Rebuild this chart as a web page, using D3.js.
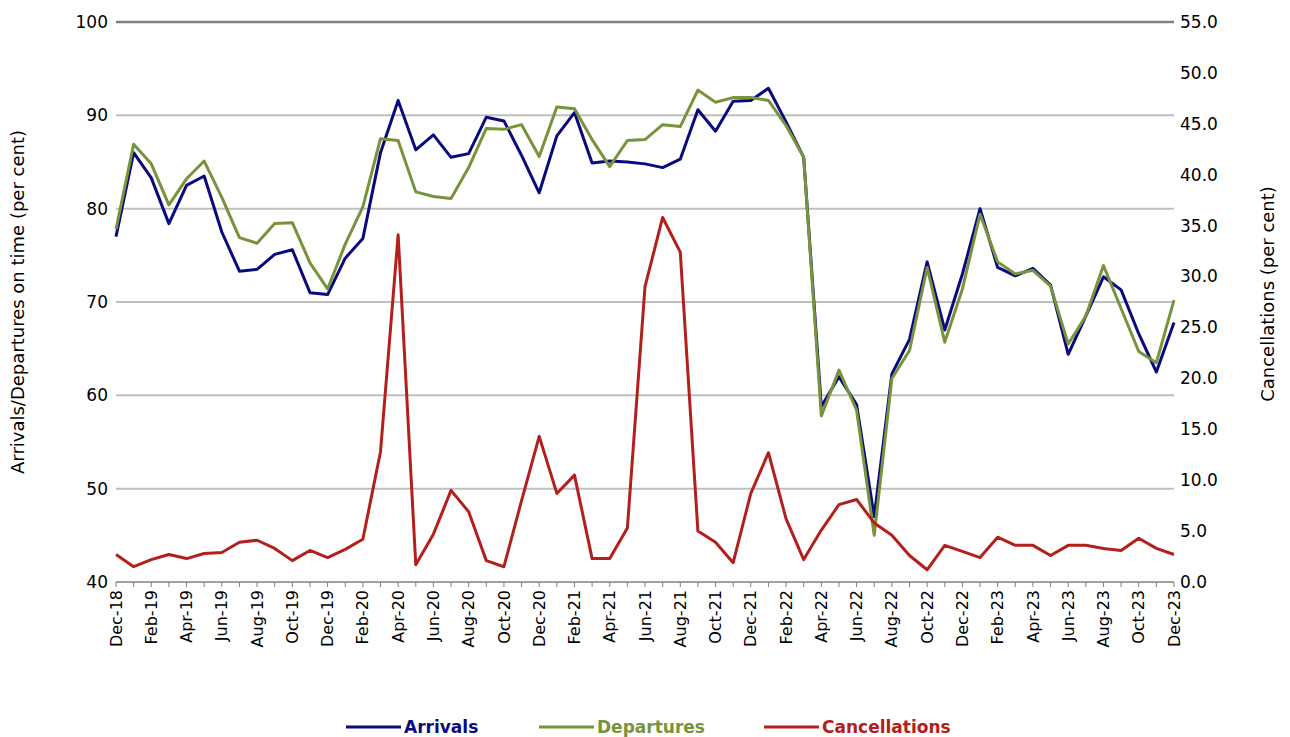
<!DOCTYPE html>
<html>
<head>
<meta charset="utf-8">
<script src="https://cdn.jsdelivr.net/npm/d3@7"></script>
<style>
  body { margin: 0; background: #fff; }
  text { font-family: "DejaVu Sans", Verdana, sans-serif; }
</style>
</head>
<body>
<svg id="chart" width="1290" height="737"></svg>
<script>
const months = ['Jan','Feb','Mar','Apr','May','Jun','Jul','Aug','Sep','Oct','Nov','Dec'];
// Dec-18 .. Dec-23
const categories = [];
for (let i = 0; i <= 60; i++) {
  const m = (11 + i) % 12, y = 18 + Math.floor((11 + i) / 12);
  categories.push(months[m] + '-' + y);
}

const arrivals = [77,86,83.3,78.4,82.5,83.5,77.5,73.3,73.5,75.1,75.6,71,70.8,74.7,76.8,86,91.6,86.3,87.9,85.5,85.9,89.8,89.4,85.7,81.7,87.8,90.3,84.9,85.1,85,84.8,84.4,85.3,90.6,88.3,91.5,91.6,92.9,89.3,85.5,58.8,62,59,47,62.3,66,74.3,67,73,80,73.7,72.8,73.6,71.8,64.4,68.5,72.7,71.3,66.6,62.5,67.8];
const departures = [77.8,86.9,84.8,80.4,83.2,85.1,81.2,76.9,76.3,78.4,78.5,74.2,71.4,76.2,80.2,87.5,87.3,81.8,81.3,81.1,84.4,88.6,88.5,89,85.6,90.9,90.7,87.4,84.5,87.3,87.4,89,88.8,92.7,91.4,91.9,91.9,91.6,88.9,85.5,57.8,62.7,58.4,45,61.8,64.8,73.7,65.7,71.4,79.4,74.3,73,73.4,71.7,65.5,68.5,73.9,69.3,64.7,63.5,70.2];
const cancellations = [2.7,1.5,2.2,2.7,2.3,2.8,2.9,3.9,4.1,3.3,2.1,3.1,2.4,3.2,4.2,12.8,34.1,1.7,4.7,9,6.9,2.1,1.5,8,14.3,8.7,10.5,2.3,2.3,5.3,29,35.8,32.4,5,3.9,1.9,8.7,12.7,6.2,2.2,5.1,7.6,8.1,5.8,4.6,2.6,1.2,3.6,3,2.4,4.4,3.6,3.6,2.6,3.6,3.6,3.3,3.1,4.3,3.3,2.7];

const leftTicks = [40,50,60,70,80,90,100];
const rightTicks = [0,5,10,15,20,25,30,35,40,45,50,55];

const series = [
  { name: 'Arrivals', values: arrivals, color: '#0a0a80', axis: 'left' },
  { name: 'Departures', values: departures, color: '#77933c', axis: 'left' },
  { name: 'Cancellations', values: cancellations, color: '#b3201c', axis: 'right' }
];

const svg = d3.select('#chart');
const plotL = 116, plotR = 1174, plotT = 22, plotB = 582;

const x = d3.scaleLinear().domain([0, categories.length - 1]).range([plotL, plotR]);
const yL = d3.scaleLinear().domain([40, 100]).range([plotB, plotT]);
const yR = d3.scaleLinear().domain([0, 55]).range([plotB, plotT]);

// gridlines
svg.append('g').selectAll('line')
  .data(leftTicks.filter(d => d > 40))
  .join('line')
  .attr('x1', plotL).attr('x2', plotR)
  .attr('y1', d => yL(d)).attr('y2', d => yL(d))
  .attr('stroke', d => d === 100 ? '#808080' : '#bfbfbf')
  .attr('stroke-width', d => d === 100 ? 2.5 : 2);

// left axis labels
svg.append('g').selectAll('text')
  .data(leftTicks).join('text')
  .attr('x', plotL - 8).attr('y', d => yL(d)).attr('dy', '0.35em')
  .attr('text-anchor', 'end').attr('font-size', 17).text(d => d);

// right axis labels
svg.append('g').selectAll('text')
  .data(rightTicks).join('text')
  .attr('x', plotR + 6).attr('y', d => yR(d)).attr('dy', '0.35em')
  .attr('font-size', 17).text(d => d.toFixed(1));

// x axis line and ticks
svg.append('line').attr('x1', plotL).attr('x2', plotR)
  .attr('y1', plotB).attr('y2', plotB).attr('stroke', '#808080').attr('stroke-width', 1.5);
svg.append('g').selectAll('line')
  .data(categories.map((c, i) => i)).join('line')
  .attr('x1', d => x(d)).attr('x2', d => x(d))
  .attr('y1', plotB).attr('y2', plotB + 5).attr('stroke', '#808080');

svg.append('g').selectAll('text')
  .data(categories.map((c, i) => i).filter(i => i % 2 === 0)).join('text')
  .attr('transform', d => `translate(${x(d)},${plotB + 8}) rotate(-90)`)
  .attr('text-anchor', 'end').attr('dy', '0.35em')
  .attr('font-size', 16).text(d => categories[d]);

// axis titles
svg.append('text')
  .attr('transform', `translate(24,${(plotT + plotB) / 2}) rotate(-90)`)
  .attr('text-anchor', 'middle').attr('font-size', 18)
  .text('Arrivals/Departures on time (per cent)');
svg.append('text')
  .attr('transform', `translate(1274,${(plotT + plotB) / 2 - 8}) rotate(-90)`)
  .attr('text-anchor', 'middle').attr('font-size', 18)
  .text('Cancellations (per cent)');

// lines
series.forEach(s => {
  const yScale = s.axis === 'left' ? yL : yR;
  const line = d3.line().x((d, i) => x(i)).y(d => yScale(d));
  svg.append('path').datum(s.values)
    .attr('d', line).attr('fill', 'none')
    .attr('stroke', s.color).attr('stroke-width', 3)
    .attr('stroke-linejoin', 'round');
});

// legend
const legendX = [346, 539, 764];
const lg = svg.append('g').selectAll('g').data(series).join('g')
  .attr('transform', (d, i) => `translate(${legendX[i]},727)`);
lg.append('line').attr('x1', 0).attr('x2', 55).attr('y1', 0).attr('y2', 0)
  .attr('stroke', d => d.color).attr('stroke-width', 3);
lg.append('text').attr('x', 58).attr('dy', '0.35em')
  .attr('font-size', 17).attr('font-weight', 'bold')
  .attr('fill', d => d.color).text(d => d.name);
</script>
</body>
</html>
